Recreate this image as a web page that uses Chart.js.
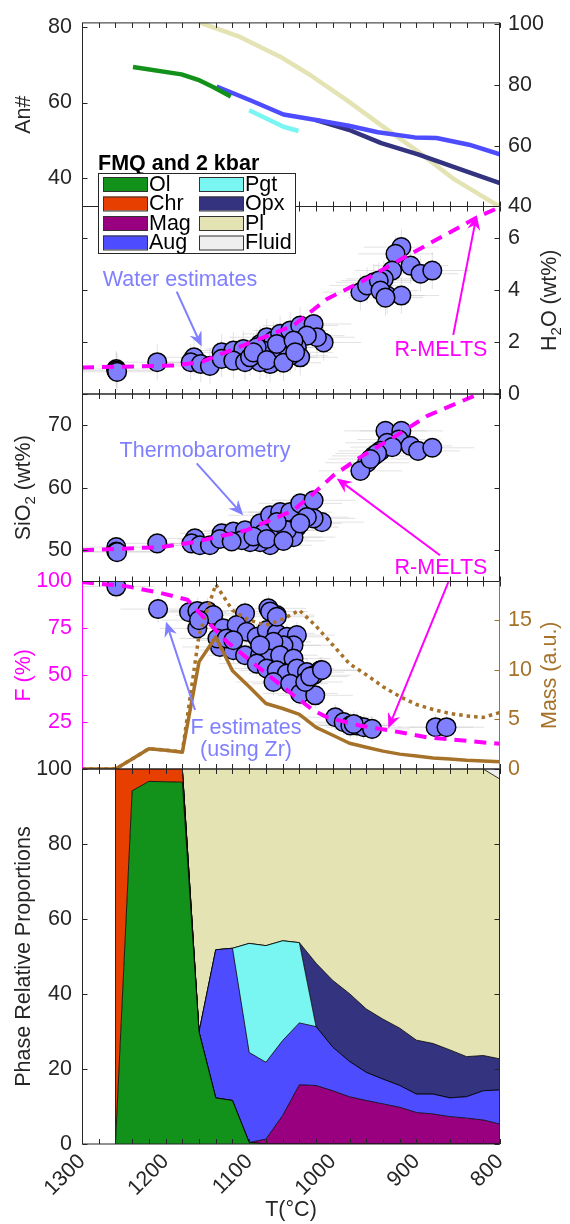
<!DOCTYPE html>
<html>
<head>
<meta charset="utf-8">
<title>R-MELTS vs estimates</title>
<script src="https://cdn.jsdelivr.net/npm/chart.js@4.4.1/dist/chart.umd.min.js"></script>
<style>
  body { margin: 0; background: #fff; }
  #fig { position: relative; width: 570px; height: 1224px; }
  #fig canvas { position: absolute; left: 0; top: 0; }
</style>
</head>
<body>
<div id="fig">
  <canvas id="anChart" width="570" height="1224"></canvas>
  <canvas id="waterChart" width="570" height="1224"></canvas>
  <canvas id="silicaChart" width="570" height="1224"></canvas>
  <canvas id="meltChart" width="570" height="1224"></canvas>
  <canvas id="phaseChart" width="570" height="1224"></canvas>
</div>
<script>
// ---------- data ----------
// mineral compositions (An# for Pl on the left, Mg# on the right)
const plT = [1159, 1111, 1063, 1028, 985, 942, 898, 855, 800];
const plAn = [81.1, 77.3, 72.1, 67.4, 60.9, 54.0, 47.1, 39.8, 32.5];
const olT = [1239, 1181, 1161, 1142, 1122];
const olMg = [85.8, 83.4, 81.6, 79.1, 76.1];
const augT = [1139, 1098, 1059, 1020, 981, 946, 902, 876, 837, 800];
const augMg = [79.4, 74.8, 70.2, 68.4, 66.5, 64.4, 62.7, 62.5, 60.3, 57.1];
const pgtT = [1100, 1059, 1041];
const pgtMg = [71.6, 66.2, 64.8];
const opxT = [1020, 981, 942, 898, 842, 800];
const opxMg = [68.4, 65.2, 60.8, 57.1, 51.7, 47.7];

// water estimates
const h2oT = [1259, 1259, 1258, 1210, 1166, 1170, 1158, 1147, 1133, 1119, 1107, 1133, 1119, 1105,
  1087, 1079, 1071, 1063, 1051, 1039, 1023, 1011, 1019, 1031, 1043, 1039, 1051, 1063, 1075, 1087,
  1099, 1071, 1083, 1055, 1067, 1047, 1091, 1095, 1079, 1059, 1045,
  918, 925, 907, 895, 881, 929, 939, 951, 967, 959, 945, 935, 918, 943, 937];
const h2oVal = [0.96, 0.9, 0.85, 1.22, 1.41, 1.22, 1.15, 1.08, 1.6, 1.67, 1.73, 1.35, 1.28, 1.22,
  1.92, 2.18, 2.05, 2.31, 2.44, 2.63, 2.69, 1.98, 2.18, 2.24, 1.79, 1.41, 1.47, 1.41, 1.15, 1.22,
  1.41, 1.54, 1.67, 1.79, 1.92, 2.05, 1.79, 1.6, 1.3, 1.2, 1.6,
  5.64, 5.38, 4.93, 4.62, 4.74, 4.74, 4.42, 4.29, 3.91, 4.17, 4.36, 3.78, 3.78, 3.97, 3.7];

// thermobarometry SiO2
const sioT = [1259, 1259, 1258, 1210, 1165, 1169, 1159, 1147, 1133, 1119, 1105,
  1087, 1075, 1063, 1051, 1039, 1023, 1013, 1023, 1031, 1043, 1047, 1063, 1075, 1087, 1099,
  1071, 1055, 1083, 1039, 1109, 1095, 1067, 1079, 1059, 1135, 1121,
  937, 918, 921, 907, 898, 881, 935, 943, 951, 959, 967, 929, 947, 955];
const sioVal = [50.5, 49.8, 49.7, 51.1, 51.9, 51.1, 50.8, 50.8, 52.7, 53.0, 53.2,
  54.3, 55.6, 56.1, 56.1, 57.5, 58.0, 54.5, 55.1, 55.3, 53.7, 52.1, 52.1, 50.8, 51.3, 51.3,
  53.2, 53.2, 52.7, 54.3, 51.6, 52.2, 54.5, 51.8, 51.5, 51.8, 51.4,
  69.1, 69.1, 67.7, 66.7, 65.9, 66.4, 67.2, 65.9, 65.1, 64.0, 62.7, 66.5, 65.5, 64.6];

// melt fraction estimates (Zr)
const fT = [1259, 1209, 1172, 1162, 1150, 1143, 1162, 1160, 1131, 1135, 1119, 1105, 1105, 1077, 1067,
  1115, 1103, 1091, 1079, 1067, 1055, 1043, 1047, 1059, 1071, 1087, 1075, 1063, 1047, 1091,
  1079, 1067, 1055, 1043, 1031, 1015, 1023, 1071, 1051, 1039, 1021, 1033, 1087, 1138, 1127,
  1119, 1075, 1067, 1027, 1013, 997, 987, 979, 971, 963, 953, 975, 877, 864];
const fVal = [97.3, 85.3, 83.6, 84.3, 84.3, 82.1, 75.0, 79.4, 75.0, 65.1, 63.4, 60.7, 83.0, 85.7, 82.1,
  76.8, 73.2, 70.5, 74.1, 72.3, 70.5, 71.4, 66.0, 66.0, 67.8, 60.7, 58.9, 60.7, 58.9, 56.2,
  53.6, 52.6, 50.9, 53.6, 51.7, 52.6, 50.0, 46.4, 45.5, 40.2, 39.3, 46.4, 66.0, 69.6, 69.6,
  68.7, 84.0, 81.2, 49.3, 52.8, 27.6, 25.0, 23.2, 23.2, 22.3, 21.4, 24.0, 22.3, 22.3];

// R-MELTS model curves
const meltsH2oT = [1300, 1190, 1158, 1103, 1047, 1007, 967, 907, 827, 800];
const meltsH2o = [1.02, 1.09, 1.22, 1.92, 2.63, 3.65, 4.29, 5.38, 6.79, 7.18];
const meltsSioT = [1300, 1206, 1166, 1103, 1047, 1023, 999, 967, 927, 887, 824, 800];
const meltsSio = [50.0, 50.5, 51.3, 53.2, 56.4, 59.1, 62.0, 64.9, 68.1, 71.5, 75.1, 76.4];
const meltsFT = [1300, 1246, 1206, 1174, 1150, 1127, 1087, 1047, 1023, 1007, 967, 931, 887, 800];
const meltsF = [99.7, 97.4, 93.9, 90.3, 78.7, 68.0, 53.6, 39.3, 31.2, 27.6, 23.1, 20.5, 16.9, 13.4];
const massT = [1300, 1260, 1240, 1220, 1200, 1180, 1160, 1140, 1120, 1100, 1080, 1060, 1040,
  1020, 1000, 980, 960, 940, 920, 900, 880, 860, 840, 820, 800];
const massSolid = [0, 0, 1.0, 2.05, 1.88, 1.7, 10.8, 13.3, 9.9, 8.3, 6.6, 6.1, 5.5,
  4.2, 3.4, 2.6, 2.2, 1.8, 1.5, 1.3, 1.1, 1.0, 0.88, 0.8, 0.74];
const massDotted = [0, 0, 1.0, 2.05, 1.9, 1.75, 13.5, 18.6, 16.0, 15.0, 14.5, 15.1, 16.0,
  14.4, 12.5, 10.6, 9.5, 8.3, 7.3, 6.5, 6.0, 5.6, 5.35, 5.2, 5.7];

// phase relative proportions (stacked)
const phaseT = [1260, 1240, 1220, 1200, 1180, 1160, 1140, 1120, 1100, 1080, 1060, 1040,
  1020, 1000, 980, 960, 940, 920, 900, 880, 860, 840, 820, 800];
const phaseNames = ['Ol', 'Chr', 'Mag', 'Aug', 'Pgt', 'Opx', 'Pl', 'Fluid'];
const olProp = [0, 94.2, 96.7, 96.6, 96.5, 29.9, 12.3, 11.6, 0.4, 0, 0, 0, 0, 0, 0, 0, 0, 0, 0, 0, 0, 0, 0, 0];
const chrProp = [100, 5.8, 3.3, 3.4, 3.5, 0, 0, 0, 0, 0, 0, 0, 0, 0, 0, 0, 0, 0, 0, 0, 0, 0, 0, 0];
const magProp = [0, 0, 0, 0, 0, 0, 0, 0, 0, 1.3, 7.6, 15.8, 15.6, 14.2, 12.6, 11.6, 10.7, 9.8, 8.4, 8.0, 7.3, 6.9, 6.4, 5.3];
const augProp = [0, 0, 0, 0, 0, 0, 39.5, 40.6, 24.0, 20.5, 20.0, 16.5, 15.7, 11.6, 9.4, 7.5, 6.6, 5.8, 4.9, 5.3, 5.0, 5.7, 7.8, 9.1];
const pgtProp = [0, 0, 0, 0, 0, 0, 0, 0, 29.1, 31.1, 26.6, 21.4, 0, 0, 0, 0, 0, 0, 0, 0, 0, 0, 0, 0];
const opxProp = [0, 0, 0, 0, 0, 0, 0, 0, 0, 0, 0, 0, 16.9, 17.8, 18.1, 16.9, 16.0, 15.3, 14.4, 13.5, 12.8, 10.7, 9.4, 8.3];
const plProp = [0, 0, 0, 0, 0, 70.1, 48.2, 47.8, 46.5, 47.1, 45.8, 46.3, 51.8, 56.4, 59.9, 64.0, 66.7, 69.1, 72.3, 73.2, 74.9, 76.7, 76.4, 74.6];
const fluidProp = [0, 0, 0, 0, 0, 0, 0, 0, 0, 0, 0, 0, 0, 0, 0, 0, 0, 0, 0, 0, 0, 0, 0, 2.7];

// tick values
const tLabels = [1300, 1200, 1100, 1000, 900, 800];
const tMinor = [1300, 1280, 1260, 1240, 1220, 1200, 1180, 1160, 1140, 1120, 1100, 1080, 1060,
  1040, 1020, 1000, 980, 960, 940, 920, 900, 880, 860, 840, 820, 800];
const anTicks = [40, 60, 80];
const mgTicks = [40, 60, 80, 100];
const h2oTicks = [0, 2, 4, 6];
const sioTicks = [50, 60, 70];
const fTicks = [25, 50, 75, 100];
const massTicks = [0, 5, 10, 15];
const propTicks = [0, 20, 40, 60, 80, 100];

// ---------- style ----------
const FONT = "'Liberation Sans', Arial, Helvetica, sans-serif";
const FS = 21.5;
const AXIS = '#262626';
const PT_FILL = '#8080FF';
const NOTE = '#7F7FFF';
const MAGENTA = '#FF00FF';
const BROWN = '#A67128';
const phaseColors = ['#12921A', '#E63F00', '#99007F', '#4D4DFF', '#79F5F2', '#333380', '#E4E3B4', '#EFEFEF'];
const H = 1224, LEFT_W = 82, RIGHT_W = 70;
const panels = [[19, 206.5], [206.5, 394], [394, 581.5], [581.5, 769], [769, 1144]];

Chart.defaults.font.family = FONT;
Chart.defaults.font.size = FS;
Chart.defaults.color = AXIS;

const pts = (t, v) => t.map((x, i) => ({x, y: v[i]}));

function lineSet(t, v, color, axis, width, dash, order) {
  return {
    data: pts(t, v), yAxisID: axis, showLine: true, borderColor: color, borderWidth: width,
    borderDash: dash || [], pointRadius: 0, tension: 0, fill: false, order: order || 0,
    borderCapStyle: 'butt', borderJoinStyle: 'round'
  };
}

function markerSet(t, v, axis) {
  return {
    data: pts(t, v), yAxisID: axis, showLine: false, pointRadius: 9.3, pointBorderWidth: 1.5,
    pointBackgroundColor: PT_FILL, pointBorderColor: '#000', order: 5
  };
}

function yAxis(pos, min, max, ticks, showLabels, color) {
  return {
    type: 'linear', position: pos, min: min, max: max,
    grid: {display: false, drawTicks: false},
    border: {display: false},
    ticks: {display: showLabels, color: color || AXIS, padding: pos === 'left' ? 10 : 8},
    afterBuildTicks: s => { s.ticks = ticks.map(v => ({value: v})); },
    afterFit: s => { s.width = pos === 'left' ? LEFT_W : RIGHT_W; }
  };
}

const xHidden = {type: 'linear', min: 800, max: 1300, reverse: true, display: false};
const xBottom = {
  type: 'linear', min: 800, max: 1300, reverse: true,
  grid: {display: false, drawTicks: false},
  border: {display: false},
  ticks: {autoSkip: false, minRotation: 45, maxRotation: 45, padding: 5, callback: v => String(v)},
  afterBuildTicks: s => { s.ticks = tLabels.map(v => ({value: v})); },
  afterFit: s => { s.height = H - panels[4][1]; },
  title: {display: true, text: 'T(°C)', color: AXIS, padding: {top: 0, bottom: 1}}
};

// rotated axis title with optional subscript parts
function vTitle(ctx, parts, cx, cy, color) {
  const big = FS + 'px ' + FONT, small = (FS * 0.7) + 'px ' + FONT;
  ctx.save();
  ctx.translate(cx, cy);
  ctx.rotate(-Math.PI / 2);
  let w = 0;
  parts.forEach(p => { ctx.font = p[1] ? small : big; w += ctx.measureText(p[0]).width; });
  let x = -w / 2;
  ctx.fillStyle = color;
  ctx.textAlign = 'left';
  ctx.textBaseline = 'middle';
  parts.forEach(p => {
    ctx.font = p[1] ? small : big;
    ctx.fillText(p[0], x, p[1] ? FS * 0.32 : 0);
    x += ctx.measureText(p[0]).width;
  });
  ctx.restore();
}

function arrow(ctx, x1, y1, x2, y2, color) {
  const ang = Math.atan2(y2 - y1, x2 - x1), c = Math.cos(ang), s = Math.sin(ang);
  const L = 15, W = 6.5, N = 10;
  const bx = x2 - N * c, by = y2 - N * s;
  ctx.strokeStyle = color;
  ctx.fillStyle = color;
  ctx.lineWidth = 2;
  ctx.beginPath(); ctx.moveTo(x1, y1); ctx.lineTo(bx, by); ctx.stroke();
  ctx.beginPath();
  ctx.moveTo(x2, y2);
  ctx.lineTo(x2 - L * c + W * s, y2 - L * s - W * c);
  ctx.lineTo(bx, by);
  ctx.lineTo(x2 - L * c - W * s, y2 - L * s + W * c);
  ctx.closePath();
  ctx.fill();
}

// box, inward ticks, titles, error bars and annotations for one panel
function decor(cfg) {
  return {
    id: 'decor',
    beforeDatasetsDraw(chart) {
      if (!cfg.err) return;
      const {ctx, scales, chartArea: a} = chart;
      const e = cfg.err, ds = chart.data.datasets[e.ds], ys = scales[e.axis];
      ctx.save();
      ctx.beginPath(); ctx.rect(a.left, a.top, a.width, a.height); ctx.clip();
      ctx.strokeStyle = 'rgba(190,190,190,0.45)';
      ctx.lineWidth = 1;
      ctx.beginPath();
      ds.data.forEach(p => {
        const px = scales.x.getPixelForValue(p.x), py = ys.getPixelForValue(p.y);
        ctx.moveTo(scales.x.getPixelForValue(p.x - e.t), py);
        ctx.lineTo(scales.x.getPixelForValue(p.x + e.t), py);
        if (e.y) {
          ctx.moveTo(px, ys.getPixelForValue(p.y - e.y));
          ctx.lineTo(px, ys.getPixelForValue(p.y + e.y));
        }
      });
      ctx.stroke();
      ctx.restore();
    },
    afterDatasetsDraw(chart) {
      const {ctx, scales, chartArea: a} = chart;
      const TL = 5;
      ctx.save();
      ctx.lineWidth = 1;
      ctx.strokeStyle = AXIS;
      ctx.beginPath();
      if (cfg.edgeAt !== undefined) {
        // left edge of the stacked phase field
        const ex = Math.round(scales.x.getPixelForValue(cfg.edgeAt)) + 0.5;
        ctx.moveTo(ex, scales.yL.getPixelForValue(0));
        ctx.lineTo(ex, scales.yL.getPixelForValue(100));
      }
      tMinor.forEach(v => {
        const px = Math.round(scales.x.getPixelForValue(v)) + 0.5;
        ctx.moveTo(px, a.top); ctx.lineTo(px, a.top + TL);
        ctx.moveTo(px, a.bottom); ctx.lineTo(px, a.bottom - TL);
      });
      ctx.moveTo(a.left, a.top); ctx.lineTo(a.right, a.top);
      ctx.moveTo(a.left, a.bottom); ctx.lineTo(a.right, a.bottom);
      ctx.stroke();
      [['left', a.left + 0.5, 1], ['right', a.right - 0.5, -1]].forEach(([side, x, dir]) => {
        const sd = cfg[side];
        ctx.strokeStyle = sd.color || AXIS;
        ctx.beginPath();
        ctx.moveTo(x, a.top); ctx.lineTo(x, a.bottom);
        sd.ticks.forEach(v => {
          const py = Math.round(scales[sd.axis].getPixelForValue(v)) + 0.5;
          ctx.moveTo(x, py); ctx.lineTo(x + dir * TL, py);
        });
        ctx.stroke();
      });
      ctx.restore();
    },
    afterDraw(chart) {
      const {ctx, scales, chartArea: a} = chart;
      const cy = (a.top + a.bottom) / 2;
      (cfg.titles || []).forEach(t => {
        vTitle(ctx, t.parts, t.side === 'left' ? a.left - 58 : a.right + 50, cy, t.color || AXIS);
      });
      ctx.save();
      ctx.font = FS + 'px ' + FONT;
      ctx.textAlign = 'center';
      ctx.textBaseline = 'middle';
      (cfg.notes || []).forEach(n => {
        const ys = scales[n.axis];
        if (n.text) {
          ctx.fillStyle = n.color;
          ctx.fillText(n.text, scales.x.getPixelForValue(n.x), ys.getPixelForValue(n.y));
        } else {
          arrow(ctx, scales.x.getPixelForValue(n.x1), ys.getPixelForValue(n.y1),
                scales.x.getPixelForValue(n.x2), ys.getPixelForValue(n.y2), n.color);
        }
      });
      ctx.restore();
      if (cfg.legend) drawLegend(ctx, a);
    }
  };
}

function drawLegend(ctx, a) {
  const x0 = a.left + 16, y0 = a.top - 33.5, w = 197, h = 80;
  ctx.save();
  ctx.font = 'bold ' + FS + 'px ' + FONT;
  ctx.fillStyle = '#000';
  ctx.textAlign = 'left';
  ctx.textBaseline = 'middle';
  ctx.fillText('FMQ and 2 kbar', x0, y0 - 9);
  ctx.fillStyle = '#fff';
  ctx.fillRect(x0, y0, w, h);
  ctx.strokeStyle = AXIS;
  ctx.lineWidth = 1;
  ctx.strokeRect(x0 + 0.5, y0 + 0.5, w, h);
  ctx.font = FS + 'px ' + FONT;
  phaseNames.forEach((name, i) => {
    const col = Math.floor(i / 4), row = i % 4;
    const sx = x0 + 5 + col * 96, cy = y0 + 11 + row * 19.5;
    ctx.fillStyle = phaseColors[i];
    ctx.fillRect(sx, cy - 7, 44, 14);
    ctx.strokeStyle = '#333';
    ctx.strokeRect(sx + 0.5, cy - 6.5, 44, 14);
    ctx.fillStyle = '#000';
    ctx.fillText(name, sx + 46, cy + 1);
  });
  ctx.restore();
}

function makePanel(id, idx, datasets, scales, cfg, type) {
  const [top, bottom] = panels[idx];
  return new Chart(document.getElementById(id), {
    type: type || 'scatter',
    data: {datasets: datasets},
    options: {
      responsive: false,
      animation: false,
      devicePixelRatio: 1,
      layout: {padding: {top: top, bottom: idx === 4 ? 0 : H - bottom, left: 0, right: 0}},
      plugins: {legend: {display: false}, tooltip: {enabled: false}},
      scales: scales
    },
    plugins: [decor(cfg)]
  });
}

// ---------- panel 1: An# / Mg# ----------
makePanel('anChart', 0, [
  lineSet(olT, olMg, phaseColors[0], 'yR', 4.5, null, 1),
  lineSet(augT, augMg, phaseColors[3], 'yR', 4.5, null, 1),
  lineSet(pgtT, pgtMg, phaseColors[4], 'yR', 4.5, null, 1),
  lineSet(opxT, opxMg, phaseColors[5], 'yR', 4.5, null, 1),
  lineSet(plT, plAn, phaseColors[6], 'yL', 4.5, null, 3)
], {
  x: xHidden,
  yL: yAxis('left', 32.6, 81, anTicks, true),
  yR: yAxis('right', 40, 100.3, mgTicks, true)
}, {
  left: {axis: 'yL', ticks: anTicks},
  right: {axis: 'yR', ticks: mgTicks},
  titles: [{side: 'left', parts: [['An#', false]]}]
});

// ---------- panel 2: water ----------
makePanel('waterChart', 1, [
  lineSet(meltsH2oT, meltsH2o, MAGENTA, 'yR', 4, [12, 8], 0),
  markerSet(h2oT, h2oVal, 'yR')
], {
  x: xHidden,
  yL: yAxis('left', 0, 7.2, h2oTicks, false),
  yR: yAxis('right', 0, 7.2, h2oTicks, true)
}, {
  left: {axis: 'yL', ticks: h2oTicks},
  right: {axis: 'yR', ticks: h2oTicks},
  err: {ds: 1, axis: 'yR', t: 45, y: 0.7},
  titles: [{side: 'right', parts: [['H', false], ['2', true], ['O (wt%)', false]]}],
  notes: [
    {axis: 'yR', x: 1182.8, y: 4.38, text: 'Water estimates', color: NOTE},
    {axis: 'yR', x1: 1186.7, y1: 3.93, x2: 1156.8, y2: 1.82, color: NOTE},
    {axis: 'yR', x: 870.6, y: 1.69, text: 'R-MELTS', color: MAGENTA},
    {axis: 'yR', x1: 855.9, y1: 2.27, x2: 827.9, y2: 6.87, color: MAGENTA}
  ],
  legend: true
});

// ---------- panel 3: SiO2 ----------
makePanel('silicaChart', 2, [
  lineSet(meltsSioT, meltsSio, MAGENTA, 'yL', 4, [12, 8], 0),
  markerSet(sioT, sioVal, 'yL')
], {
  x: xHidden,
  yL: yAxis('left', 45, 75, sioTicks, true),
  yR: yAxis('right', 45, 75, sioTicks, false)
}, {
  left: {axis: 'yL', ticks: sioTicks},
  right: {axis: 'yR', ticks: sioTicks},
  err: {ds: 1, axis: 'yL', t: 50, y: 0},
  titles: [{side: 'left', parts: [['SiO', false], ['2', true], [' (wt%)', false]]}],
  notes: [
    {axis: 'yL', x: 1152.9, y: 65.8, text: 'Thermobarometry', color: NOTE},
    {axis: 'yL', x1: 1162.8, y1: 63.9, x2: 1107.1, y2: 55.6, color: NOTE},
    {axis: 'yL', x: 870.6, y: 47.2, text: 'R-MELTS', color: MAGENTA},
    {axis: 'yL', x1: 871.8, y1: 49.2, x2: 995.3, y2: 61.5, color: MAGENTA}
  ]
});

// ---------- panel 4: melt fraction and mass ----------
makePanel('meltChart', 3, [
  lineSet(meltsFT, meltsF, MAGENTA, 'yL', 4, [12, 8], 0),
  lineSet(massT, massSolid, BROWN, 'yR', 3.5, null, 1),
  lineSet(massT, massDotted, BROWN, 'yR', 3.5, [3.5, 4], 1),
  markerSet(fT, fVal, 'yL')
], {
  x: xHidden,
  yL: yAxis('left', 0, 100, fTicks, true, MAGENTA),
  yR: yAxis('right', 0, 18.9, massTicks, true, BROWN)
}, {
  left: {axis: 'yL', ticks: fTicks, color: MAGENTA},
  right: {axis: 'yR', ticks: massTicks, color: BROWN},
  err: {ds: 3, axis: 'yL', t: 45, y: 7},
  titles: [
    {side: 'left', parts: [['F (%)', false]], color: MAGENTA},
    {side: 'right', parts: [['Mass (a.u.)', false]], color: BROWN}
  ],
  notes: [
    {axis: 'yL', x: 1103.8, y: 21.9, text: 'F estimates', color: NOTE},
    {axis: 'yL', x: 1103.8, y: 10.1, text: '(using Zr)', color: NOTE},
    {axis: 'yL', x1: 1164.8, y1: 31.5, x2: 1199.5, y2: 78.6, color: NOTE},
    {axis: 'yL', x1: 861.8, y1: 99.7, x2: 933.6, y2: 21.7, color: MAGENTA}
  ]
});

// ---------- panel 5: phase proportions ----------
const phaseData = [olProp, chrProp, magProp, augProp, pgtProp, opxProp, plProp, fluidProp];
makePanel('phaseChart', 4, phaseData.map((vals, i) => ({
  label: phaseNames[i],
  data: pts(phaseT, vals),
  yAxisID: 'yL',
  backgroundColor: phaseColors[i],
  borderColor: '#000',
  borderWidth: 0.8,
  pointRadius: 0,
  tension: 0,
  fill: i === 0 ? 'origin' : '-1'
})), {
  x: xBottom,
  yL: Object.assign(yAxis('left', 0, 100, propTicks, true), {stacked: true}),
  yR: yAxis('right', 0, 100, propTicks, false)
}, {
  left: {axis: 'yL', ticks: propTicks},
  right: {axis: 'yR', ticks: propTicks},
  edgeAt: phaseT[0],
  titles: [{side: 'left', parts: [['Phase Relative Proportions', false]]}]
}, 'line');
</script>
</body>
</html>
